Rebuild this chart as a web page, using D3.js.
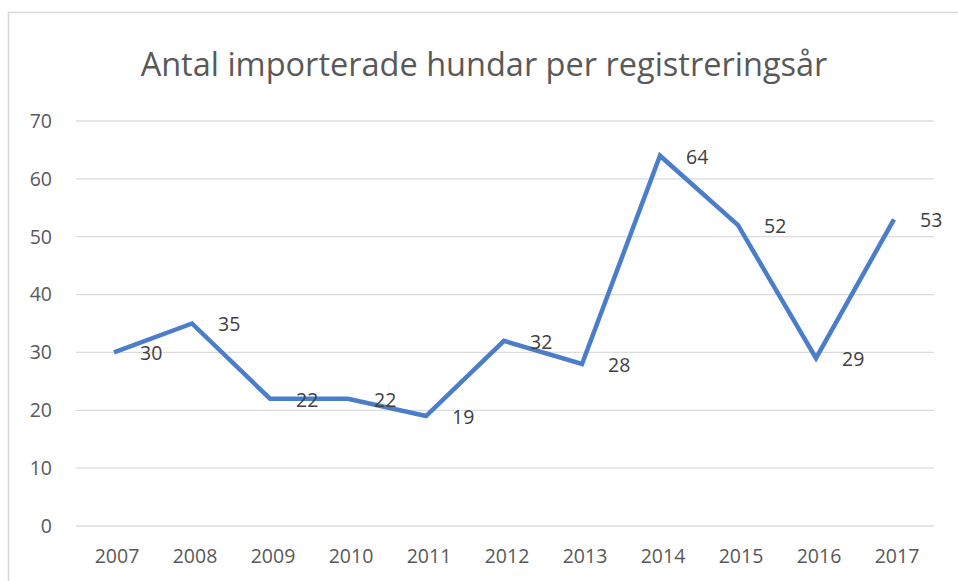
<!doctype html>
<html>
<head>
<meta charset="UTF-8">
<title>Antal importerade hundar</title>
<script src="https://d3js.org/d3.v7.min.js"></script>
<style>
  body { margin: 0; background: #fff; }
  text { font-family: "Open Sans", sans-serif; fill: #595959; }
</style>
</head>
<body>
<script>
var years = ["2007","2008","2009","2010","2011","2012","2013","2014","2015","2016","2017"];
var dogs = [30, 35, 22, 22, 19, 32, 28, 64, 52, 29, 53];
var yTicks = [0, 10, 20, 30, 40, 50, 60, 70];
var title = "Antal importerade hundar per registreringsår";

var w = 958, h = 581;
var padL = 76, padR = 934, padT = 121, padB = 526;

var svg = d3.select("body").append("svg")
    .attr("width", w)
    .attr("height", h);

// chart frame
svg.append("rect")
    .attr("x", 8.5).attr("y", 12.5)
    .attr("width", 1000).attr("height", 1000)
    .attr("fill", "none")
    .attr("stroke", "#d9d9d9")
    .attr("stroke-width", 1.5);

svg.append("text")
    .attr("x", 484).attr("y", 76)
    .attr("text-anchor", "middle")
    .attr("font-size", 32.5)
    .text(title);

var x = d3.scaleBand().domain(years).range([padL, padR]);
var y = d3.scaleLinear().domain([0, 70]).range([padB, padT]);

// gridlines
svg.selectAll("line.grid")
    .data(yTicks)
    .enter().append("line")
    .attr("class", "grid")
    .attr("x1", padL).attr("x2", padR)
    .attr("y1", function(d){ return y(d); })
    .attr("y2", function(d){ return y(d); })
    .attr("stroke", "#dcdcdc")
    .attr("stroke-width", 1.3);

// y labels
svg.selectAll("text.ytick")
    .data(yTicks)
    .enter().append("text")
    .attr("class", "ytick")
    .attr("x", 52)
    .attr("y", function(d){ return y(d); })
    .attr("dy", "0.35em")
    .attr("text-anchor", "end")
    .attr("font-size", 19.5)
    .text(function(d){ return d; });

// x labels
svg.selectAll("text.xtick")
    .data(years)
    .enter().append("text")
    .attr("class", "xtick")
    .attr("x", function(d){ return x(d) + x.bandwidth() / 2 + 2; })
    .attr("y", 563)
    .attr("text-anchor", "middle")
    .attr("font-size", 19.5)
    .text(function(d){ return d; });

var line = d3.line()
    .x(function(d, i){ return x(years[i]) + x.bandwidth() / 2 - 1; })
    .y(function(d){ return y(d); });

svg.append("path")
    .datum(dogs)
    .attr("d", line)
    .attr("fill", "none")
    .attr("stroke", "#4a7ecb")
    .attr("stroke-width", 4.5)
    .attr("stroke-linejoin", "miter");

// data labels, right of each point
svg.selectAll("text.lbl")
    .data(dogs)
    .enter().append("text")
    .attr("class", "lbl")
    .attr("x", function(d, i){ return x(years[i]) + x.bandwidth() / 2 + 25; })
    .attr("y", function(d){ return y(d) + 1; })
    .attr("dy", "0.35em")
    .attr("font-size", 19.5)
    .style("fill", "#404040")
    .text(function(d){ return d; });
</script>
</body>
</html>
